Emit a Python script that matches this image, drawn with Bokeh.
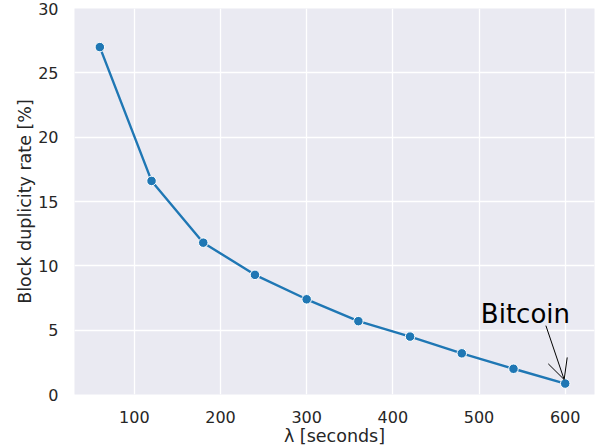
from bokeh.plotting import figure
from bokeh.models import Range1d, Arrow, OpenHead, Label, FixedTicker
from bokeh.embed import file_html
from bokeh.resources import INLINE

# Data
block_interval = [60, 120, 180, 240, 300, 360, 420, 480, 540, 600]
duplicity_rate = [27.0, 16.6, 11.8, 9.3, 7.4, 5.7, 4.5, 3.2, 2.0, 0.85]
x_ticks = [100, 200, 300, 400, 500, 600]
y_ticks = [0, 5, 10, 15, 20, 25, 30]
annotation_text = "Bitcoin"

FONT = "DejaVu Sans"
TEXT = "#262626"

p = figure(width=598, height=448, output_backend="svg", toolbar_location=None,
           x_range=Range1d(30.6, 634.0), y_range=Range1d(0, 30),
           min_border_left=74, min_border_right=4, min_border_top=8,
           min_border_bottom=10)

p.background_fill_color = "#EAEAF2"
p.border_fill_color = "white"
p.outline_line_color = None

for g in (p.xgrid, p.ygrid):
    g.grid_line_color = "white"
    g.grid_line_width = 1.3
p.xgrid.ticker = FixedTicker(ticks=x_ticks)
p.ygrid.ticker = FixedTicker(ticks=y_ticks)

p.xaxis.ticker = FixedTicker(ticks=x_ticks)
p.yaxis.ticker = FixedTicker(ticks=y_ticks)

for ax in (p.xaxis[0], p.yaxis[0]):
    ax.axis_line_color = None
    ax.major_tick_line_color = None
    ax.minor_tick_line_color = None
    ax.major_tick_out = 0
    ax.major_tick_in = 0
    ax.minor_tick_out = 0
    ax.major_label_text_font = FONT
    ax.major_label_text_font_size = "16px"
    ax.major_label_text_color = TEXT
    ax.axis_label_text_font = FONT
    ax.axis_label_text_font_size = "17.5px"
    ax.axis_label_text_font_style = "normal"
    ax.axis_label_text_color = TEXT

p.xaxis.axis_label = "λ [seconds]"
p.yaxis.axis_label = "Block duplicity rate [%]"
p.xaxis.major_label_standoff = 16
p.xaxis.axis_label_standoff = 0
p.yaxis.major_label_standoff = 16
p.yaxis.axis_label_standoff = 0

p.line(block_interval, duplicity_rate, line_color="#1f77b4", line_width=2.4)
p.scatter(block_interval, duplicity_rate, size=9.5, fill_color="#1f77b4",
          line_color="white", line_width=1)

# Annotation
p.add_layout(Arrow(end=OpenHead(size=20, line_color="black", line_width=1),
                   x_start=577.6, y_start=5.35, x_end=598.8, y_end=1.16,
                   line_color="black", line_width=1))
p.add_layout(Label(x=502.1, y=6.25, text=annotation_text, text_font=FONT,
                   text_font_size="26px", text_color="black",
                   text_align="left", text_baseline="alphabetic"))

open("out.html", "w").write(file_html(p, INLINE))
